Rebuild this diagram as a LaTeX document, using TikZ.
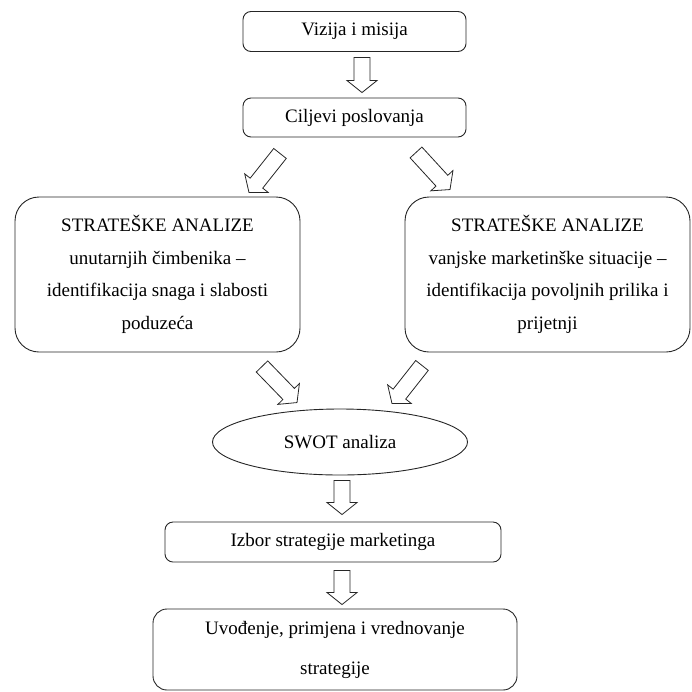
\documentclass[tikz,border=0pt]{standalone}
\usepackage{fontspec}
\setmainfont{Liberation Serif}
\usetikzlibrary{calc,shapes.geometric}
\tikzset{
  box/.style={draw=black!85, line width=0.9pt, rounded corners=8pt, align=center, inner sep=0pt,
    font=\fontsize{19}{32.5}\selectfont},
  bigbox/.style={box, rounded corners=24pt, minimum width=285pt, minimum height=155pt},
  oval/.style={draw=black!85, line width=0.9pt, ellipse, inner sep=0pt, minimum width=255pt, minimum height=66pt,
    font=\fontsize{19}{23}\selectfont},
  blockarrow/.style={draw=black!85, line width=0.8pt, fill=white, line join=miter},
}
\newcommand\hollowarrow[2]{%
  \coordinate (hA) at (#1);
  \coordinate (hB) at (#2);
  \coordinate (hH) at ($(hB)!12pt!(hA)$);
  \draw[blockarrow] ($(hA)!8pt!90:(hB)$) -- ($(hH)!8pt!-90:(hA)$) -- ($(hH)!15pt!-90:(hA)$) -- (hB)
    -- ($(hH)!15pt!90:(hA)$) -- ($(hH)!8pt!90:(hA)$) -- ($(hA)!8pt!-90:(hB)$) -- cycle;
}
\begin{document}
\begin{tikzpicture}[x=1pt,y=-1pt]
\useasboundingbox (0,0) rectangle (692,691);
\node[box, minimum width=223pt, minimum height=40pt] (v) at (354.5,31.5) {Vizija i misija};
\node[box, minimum width=223pt, minimum height=39pt] (c) at (354.5,117.5) {Ciljevi poslovanja};
\node[bigbox] (L) at (157.5,274.5) {STRATEŠKE ANALIZE\\unutarnjih čimbenika –\\identifikacija snaga i slabosti\\poduzeća};
\node[bigbox] (R) at (547.5,274.5) {STRATEŠKE ANALIZE\\vanjske marketinške situacije –\\identifikacija povoljnih prilika i\\prijetnji};
\node[oval] (s) at (340,442) {SWOT analiza};
\node[box, minimum width=336pt, minimum height=40pt] (i) at (333,542) {Izbor strategije marketinga};
\node[box, rounded corners=14pt, minimum width=364pt, minimum height=81pt,
  font=\fontsize{19}{40}\selectfont] (u) at (335,649.5) {Uvođenje, primjena i vrednovanje\\strategije};

\hollowarrow{$(v.south)+(7.5,5.5)$}{$(c.north)+(7.5,-5)$}
\hollowarrow{$(c.south)+(-74.5,16)$}{$(L.north)+(91.5,-4)$}
\hollowarrow{$(c.south)+(61.5,15)$}{$(R.north)+(-97.5,-7)$}
\hollowarrow{$(L.south)+(104.5,14)$}{$(s.north)+(-43,-6)$}
\hollowarrow{$(R.south)+(-125.5,13)$}{$(s.north)+(52,-5)$}
\hollowarrow{$(s.south)+(2,5)$}{$(i.north)+(9,-7)$}
\hollowarrow{$(i.south)+(9,8)$}{$(u.north)+(7,-4)$}
\end{tikzpicture}
\end{document}
